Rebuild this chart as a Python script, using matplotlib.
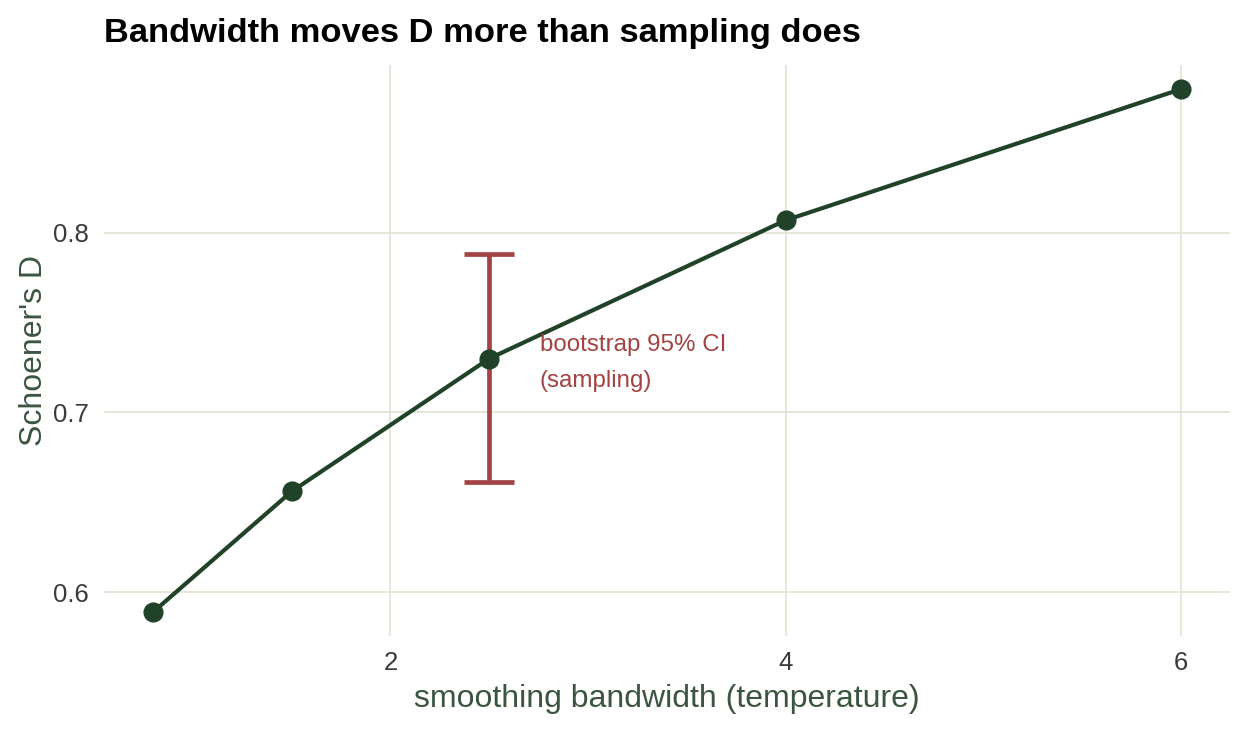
import numpy as np
import matplotlib.pyplot as plt

# bandwidth sweep
bandwidth = [0.8, 1.5, 2.5, 4.0, 6.0]
schoener_d = [0.589, 0.656, 0.730, 0.807, 0.880]

# bootstrap CI at bandwidth 2.5
ci_x = 2.5
ci_mid = 0.730
ci_low = 0.661
ci_high = 0.788

green = '#1f4229'
red = '#a34343'
grid_col = '#e4e4d6'

plt.rcParams['font.family'] = ['Liberation Sans', 'DejaVu Sans']

fig = plt.figure(figsize=(12.48, 7.29), dpi=100)
ax = fig.add_axes([104 / 1248, 1 - 636 / 729, (1230 - 104) / 1248, (636 - 65) / 729])

ax.grid(True, color=grid_col, linewidth=1.3)
ax.set_axisbelow(True)
for s in ax.spines.values():
    s.set_visible(False)

ax.errorbar([ci_x], [ci_mid], yerr=[[ci_mid - ci_low], [ci_high - ci_mid]],
            fmt='none', ecolor=red, elinewidth=3.4, capsize=18, capthick=3.4, zorder=2)
ax.plot(bandwidth, schoener_d, color=green, linewidth=3, marker='o', markersize=13.5, zorder=3)

ax.text(2.755, 0.7275, 'bootstrap 95% CI\n(sampling)', color=red, fontsize=17.4,
        ha='left', va='center', linespacing=1.85)

ax.set_xlim(0.55, 6.25)
ax.set_ylim(0.5755, 0.8935)
ax.set_xticks([2, 4, 6])
ax.set_yticks([0.6, 0.7, 0.8])
ax.tick_params(length=0, labelsize=18.5, colors='#3a3a3a')
ax.tick_params(axis='x', pad=11)
ax.tick_params(axis='y', pad=11)

ax.set_xlabel('smoothing bandwidth (temperature)', fontsize=23, color='#3b5541', labelpad=6)
ax.set_ylabel("Schoener's D", fontsize=23, color='#3b5541', labelpad=3)
ax.set_title('Bandwidth moves D more than sampling does', fontsize=24.8, fontweight='bold',
             loc='left', x=0.0, y=1.041, pad=0)

fig.savefig('out.png', dpi=100, facecolor='white')
